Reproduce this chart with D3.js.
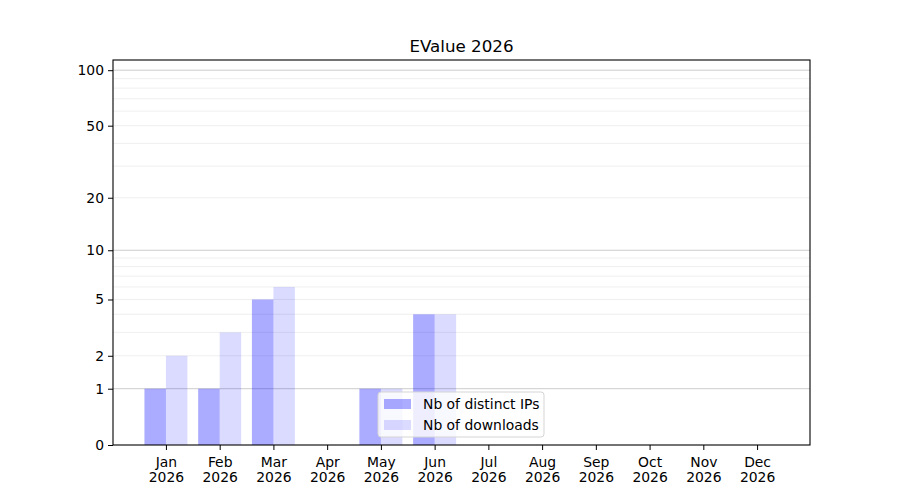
<!DOCTYPE html>
<html>
<head>
<meta charset="utf-8">
<script src="https://cdn.jsdelivr.net/npm/d3@7"></script>
<style>
  body { margin: 0; background: #fff; }
  text { font-family: "DejaVu Sans", sans-serif; }
</style>
</head>
<body>
<script>
// Data
const months = ["Jan", "Feb", "Mar", "Apr", "May", "Jun", "Jul", "Aug", "Sep", "Oct", "Nov", "Dec"];
const yearLabel = "2026";
const distinctIPs = [1, 1, 5, 0, 1, 4, 0, 0, 0, 0, 0, 0];
const downloads = [2, 3, 6, 0, 1, 4, 0, 0, 0, 0, 0, 0];
const yTicks = [0, 1, 2, 5, 10, 20, 50, 100];
const majorGrid = [1, 10, 100];
const minorGrid = [2, 3, 4, 5, 6, 7, 8, 9, 20, 30, 40, 50, 60, 70, 80, 90];

const width = 900, height = 500;
const plotLeft = 113, plotRight = 810, plotTop = 60, plotBottom = 445;

const svg = d3.select("body").append("svg")
    .attr("width", width)
    .attr("height", height);

// Scales
const x = d3.scaleLinear()
    .domain([-0.985, 11.985])
    .range([plotLeft, plotRight]);

// y is log10(v+1) shaped, same as symlog with constant 1
const y = d3.scaleSymlog()
    .constant(1)
    .domain([0, 113.5])
    .range([plotBottom, plotTop]);

const barW = x(0.4) - x(0);

// Grid lines
svg.append("g").selectAll("line")
    .data(minorGrid)
    .enter()
    .append("line")
    .attr("x1", plotLeft).attr("x2", plotRight)
    .attr("y1", d => y(d)).attr("y2", d => y(d))
    .attr("stroke", "#ebebeb")
    .attr("stroke-width", 0.8);

svg.append("g").selectAll("line")
    .data(majorGrid)
    .enter()
    .append("line")
    .attr("x1", plotLeft).attr("x2", plotRight)
    .attr("y1", d => y(d)).attr("y2", d => y(d))
    .attr("stroke", "#cccccc")
    .attr("stroke-width", 1);

// Bars
svg.append("g").selectAll("rect")
    .data(distinctIPs)
    .enter()
    .append("rect")
    .attr("x", (d, i) => x(i) - barW)
    .attr("y", d => y(d))
    .attr("width", barW)
    .attr("height", d => plotBottom - y(d))
    .attr("fill", "blue")
    .attr("fill-opacity", 0.33);

svg.append("g").selectAll("rect")
    .data(downloads)
    .enter()
    .append("rect")
    .attr("x", (d, i) => x(i))
    .attr("y", d => y(d))
    .attr("width", barW)
    .attr("height", d => plotBottom - y(d))
    .attr("fill", "blue")
    .attr("fill-opacity", 0.14);

// Axes
const xAxis = svg.append("g")
    .attr("transform", `translate(0,${plotBottom})`)
    .call(d3.axisBottom(x)
        .tickValues(d3.range(months.length))
        .tickSize(5)
        .tickPadding(4)
        .tickFormat(""));

xAxis.selectAll(".tick text").remove();
xAxis.selectAll(".tick").append("text")
    .attr("fill", "#000")
    .attr("text-anchor", "middle")
    .style("font-size", "13.9px")
    .each(function (d) {
        const t = d3.select(this);
        t.append("tspan").attr("x", 0).attr("y", 22).text(months[d]);
        t.append("tspan").attr("x", 0).attr("y", 37).text(yearLabel);
    });

const yAxis = svg.append("g")
    .attr("transform", `translate(${plotLeft},0)`)
    .call(d3.axisLeft(y)
        .tickValues(yTicks)
        .tickSize(5)
        .tickPadding(4)
        .tickFormat(d3.format("d")));
yAxis.selectAll("text").style("font-size", "13.9px").attr("fill", "#000");

svg.selectAll(".domain").remove();

// Frame
svg.append("rect")
    .attr("x", plotLeft).attr("y", plotTop)
    .attr("width", plotRight - plotLeft).attr("height", plotBottom - plotTop)
    .attr("fill", "none")
    .attr("stroke", "#000")
    .attr("stroke-width", 1.1);

// Title
svg.append("text")
    .attr("x", (plotLeft + plotRight) / 2)
    .attr("y", 52)
    .attr("text-anchor", "middle")
    .style("font-size", "16.7px")
    .text("EValue 2026");

// Legend
const legend = svg.append("g").attr("transform", "translate(378,392)");
legend.append("rect")
    .attr("width", 166).attr("height", 45)
    .attr("rx", 3)
    .attr("fill", "#fff").attr("fill-opacity", 0.8)
    .attr("stroke", "#d5d5d5");

const legendItems = [
    { label: "Nb of distinct IPs", op: 0.33 },
    { label: "Nb of downloads", op: 0.14 }
];
legendItems.forEach((item, i) => {
    legend.append("rect")
        .attr("x", 6).attr("y", 7 + i * 21)
        .attr("width", 27).attr("height", 10)
        .attr("fill", "blue").attr("fill-opacity", item.op);
    legend.append("text")
        .attr("x", 45).attr("y", 17 + i * 21)
        .style("font-size", "13.9px")
        .text(item.label);
});
</script>
</body>
</html>
